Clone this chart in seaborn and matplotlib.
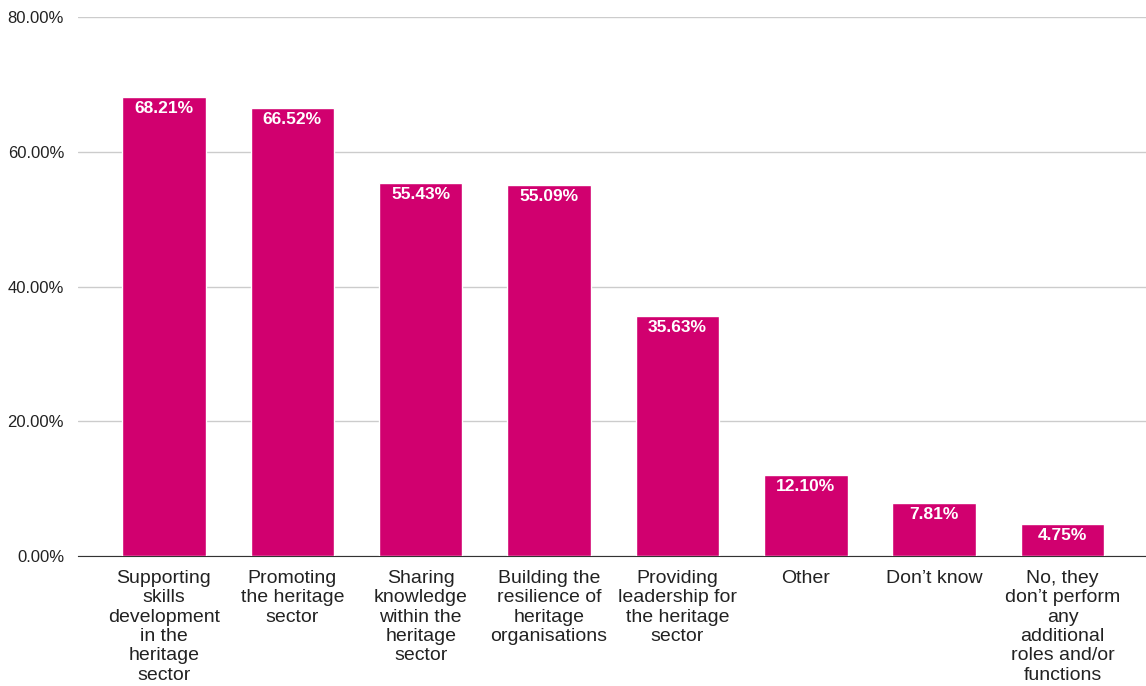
import pandas as pd
import matplotlib.pyplot as plt
import seaborn as sns
from matplotlib.ticker import FuncFormatter

# Survey answers - share of respondents per role
categories = [
    "Supporting\nskills\ndevelopment\nin the\nheritage\nsector",
    "Promoting\nthe heritage\nsector",
    "Sharing\nknowledge\nwithin the\nheritage\nsector",
    "Building the\nresilience of\nheritage\norganisations",
    "Providing\nleadership for\nthe heritage\nsector",
    "Other",
    "Don\u2019t know",
    "No, they\ndon\u2019t perform\nany\nadditional\nroles and/or\nfunctions",
]
values = [68.21, 66.52, 55.43, 55.09, 35.63, 12.10, 7.81, 4.75]
y_ticks = [0, 20, 40, 60, 80]

sns.set_style("white")
plt.rcParams['font.family'] = ['Liberation Sans', 'DejaVu Sans']

df = pd.DataFrame({"role": categories, "pct": values})

fig = plt.figure(figsize=(11.46, 6.86), dpi=100)
ax = fig.add_axes([0.068, 0.1895, 0.932, 0.7855])

sns.barplot(data=df, x="role", y="pct", color="#d1006f", width=0.65,
            saturation=1, ax=ax, zorder=3)

ax.set_xlim(-0.67, 7.65)
ax.set_ylim(0, 80)
ax.set_yticks(y_ticks)
ax.yaxis.set_major_formatter(FuncFormatter(lambda v, p: f"{v:.2f}%"))
ax.grid(axis="y", color="#cccccc", linewidth=1, zorder=0)
ax.set_xlabel("")
ax.set_ylabel("")

for side in ["top", "right", "left"]:
    ax.spines[side].set_visible(False)
ax.spines["bottom"].set_color("#333333")
ax.tick_params(axis="y", length=0, pad=10, labelsize=12, labelcolor="#222222")
ax.tick_params(axis="x", length=0, pad=10, labelsize=14, labelcolor="#222222")
for lbl in ax.get_xticklabels():
    lbl.set_linespacing(1.18)

# value labels inside the top of each bar
for i, v in enumerate(values):
    ax.text(i, v - 0.6, f"{v:.2f}%", ha="center", va="top", color="white",
            fontsize=12.5, fontweight="bold", zorder=4)

plt.savefig("out.png", dpi=100)
print("Chart saved as out.png")
